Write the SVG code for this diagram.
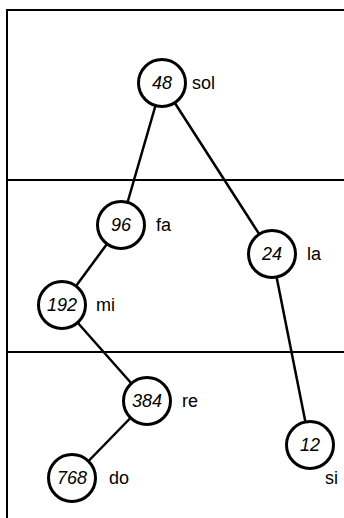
<svg xmlns="http://www.w3.org/2000/svg" width="344" height="518" viewBox="0 0 344 518">
<style>
.frame{fill:none;stroke:#000;stroke-width:2}
.edge{stroke:#000;stroke-width:2.5;fill:none}
.node circle{fill:#fff;stroke:#000;stroke-width:3}
.num{font-family:"Liberation Sans",Arial,sans-serif;font-style:italic;font-size:18px;text-anchor:middle;fill:#000}
.lbl{font-family:"Liberation Sans",Arial,sans-serif;font-size:18px;fill:#000}
</style>
<rect width="344" height="518" fill="#fff"/>
<g id="frame">
<path class="frame" d="M7,518 V10 H344"/>
<line class="frame" x1="7" y1="180" x2="344" y2="180"/>
<line class="frame" x1="7" y1="352" x2="344" y2="352"/>
</g>
<g id="connectors">
<line class="edge" x1="162" y1="83" x2="121" y2="225"/>
<line class="edge" x1="162" y1="83" x2="272" y2="254"/>
<line class="edge" x1="121" y1="225" x2="62" y2="305"/>
<line class="edge" x1="62" y1="305" x2="147" y2="401"/>
<line class="edge" x1="147" y1="401" x2="72" y2="478"/>
<line class="edge" x1="272" y1="254" x2="310" y2="445"/>
</g>
<g id="n48" class="node"><circle cx="162" cy="83" r="23.5"/><text class="num" x="162" y="89">48</text><text class="lbl" x="192" y="89">sol</text></g>
<g id="n96" class="node"><circle cx="121" cy="225" r="23.5"/><text class="num" x="121" y="231">96</text><text class="lbl" x="156" y="231">fa</text></g>
<g id="n24" class="node"><circle cx="272" cy="254" r="23.5"/><text class="num" x="272" y="260">24</text><text class="lbl" x="307" y="260">la</text></g>
<g id="n192" class="node"><circle cx="62" cy="305" r="23.5"/><text class="num" x="62" y="311">192</text><text class="lbl" x="96" y="311">mi</text></g>
<g id="n384" class="node"><circle cx="147" cy="401" r="23.5"/><text class="num" x="147" y="407">384</text><text class="lbl" x="182" y="407">re</text></g>
<g id="n768" class="node"><circle cx="72" cy="478" r="23.5"/><text class="num" x="72" y="484">768</text><text class="lbl" x="109" y="484">do</text></g>
<g id="n12" class="node"><circle cx="310" cy="445" r="23.5"/><text class="num" x="310" y="451">12</text><text class="lbl" x="325" y="484">si</text></g>
</svg>
